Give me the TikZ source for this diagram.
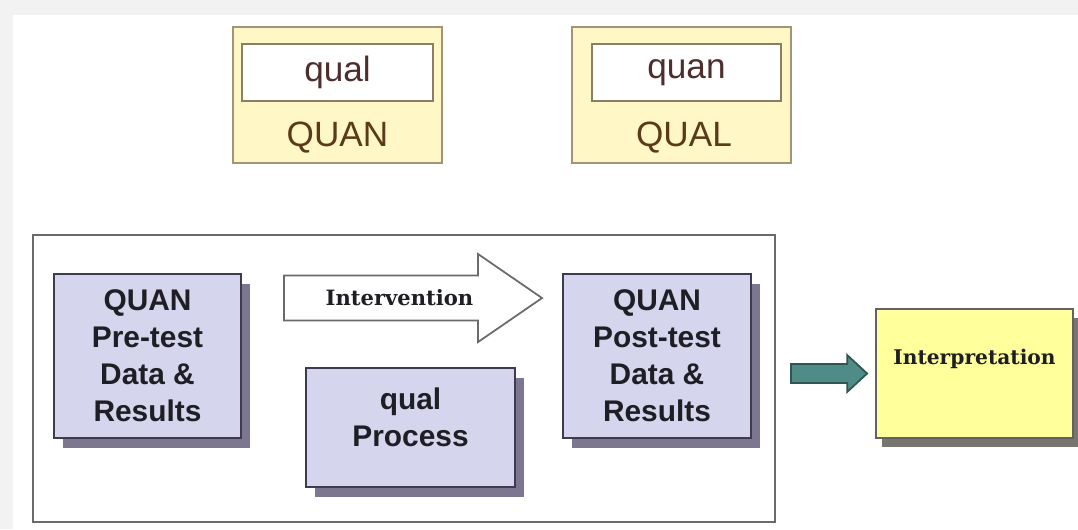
\documentclass[tikz,border=0pt]{standalone}
\usepackage{fontspec}
\setmainfont{Liberation Sans}
\newfontfamily\notefont{DejaVu Serif}
\usetikzlibrary{shadows,calc}
\definecolor{paper}{HTML}{F2F2F2}
\definecolor{ink}{HTML}{1E1E24}
\definecolor{cream}{HTML}{FFF7C6}
\definecolor{khaki}{HTML}{A39473}
\definecolor{umber}{HTML}{5A3A18}
\definecolor{plum}{HTML}{4E2E2C}
\definecolor{lilac}{HTML}{D5D5EE}
\definecolor{slate}{HTML}{3C3C4E}
\definecolor{lilacshade}{HTML}{7C7690}
\definecolor{lemon}{HTML}{FFFF9C}
\definecolor{greyshade}{HTML}{78746F}
\definecolor{teal}{HTML}{4F8C88}
\definecolor{tealdark}{HTML}{2E5652}
\definecolor{frame}{HTML}{6A6A6A}

\begin{document}
\begin{tikzpicture}[
    line width=0.9pt, color=ink,
    topbox/.style={draw=khaki, fill=cream, line width=1pt, inner sep=0pt, minimum height=2.72cm},
    tagbox/.style={draw=khaki!85!black, fill=white, line width=1pt, inner sep=0pt, minimum height=1.14cm,
      font=\fontsize{20}{24}\selectfont, text=plum},
    toplab/.style={font=\fontsize{20}{24}\selectfont, text=umber},
    phase/.style={draw=slate, fill=lilac, line width=1.1pt, inner sep=0pt, align=center,
      font=\fontsize{17}{21}\selectfont\bfseries, text=ink,
      drop shadow={shadow xshift=0.18cm, shadow yshift=-0.19cm, fill=lilacshade, opacity=1}},
    phaselab/.style={align=center, font=\fontsize{17}{21}\selectfont\bfseries, text=ink},
    notelab/.style={font=\fontsize{12}{14}\selectfont\notefont\bfseries, text=ink}]
  % 1078 x 529 px canvas, 1 px = 0.02 cm
  \path[use as bounding box] (0,0) rectangle (21.56,10.58);
  \fill[paper] (0,0) rectangle (21.56,10.58);
  \fill[white] (0.26,0) rectangle (21.56,10.28);

  % ================= embedded designs =================
  \node[topbox, minimum width=4.18cm] (embA) at (6.75,8.68) {};
  \node[tagbox, minimum width=3.82cm] (tagA) at (6.75,9.13) {qual};
  \node[toplab] (mainA) at (6.75,7.82) {QUAN};

  \node[topbox, minimum width=4.38cm] (embB) at (13.63,8.68) {};
  \node[tagbox, minimum width=3.78cm] (tagB) at (13.73,9.13) {quan};
  \node[toplab] (mainB) at (13.68,7.82) {QUAL};

  % ================= experimental frame =================
  \node[draw=frame, line width=1.1pt, inner sep=0pt, minimum width=14.84cm, minimum height=5.74cm]
    (frame) at (8.08,3.01) {};

  \node[phase, minimum width=3.74cm, minimum height=3.28cm] (pre) at (2.95,3.46)
    {QUAN\\Pre-test\\Data \&\\Results};
  \node[phase, minimum width=3.76cm, minimum height=3.28cm] (post) at (13.14,3.46)
    {QUAN\\Post-test\\Data \&\\Results};
  \node[phase, minimum width=4.18cm, minimum height=2.38cm] (proc) at (8.21,2.03) {};
  \node[phaselab] (proctxt) at ([yshift=0.21cm]proc.center) {qual\\Process};

  % intervention block arrow from pre-test towards post-test
  \coordinate (ivs) at ($(pre.north east)+(0.84,-0.50)$);
  \coordinate (ive) at ($(post.north west)+(-0.40,-0.50)$);
  \draw[frame, fill=white, line width=1pt, line join=miter]
    ($(ivs)+(0,0.45)$) -- ($(ive)+(-1.28,0.45)$) -- ($(ive)+(-1.28,0.88)$) -- (ive)
    -- ($(ive)+(-1.28,-0.88)$) -- ($(ive)+(-1.28,-0.45)$) -- ($(ivs)+(0,-0.45)$) -- cycle;
  \node[notelab] (iv) at ($(ivs)+(2.31,0)$) {Intervention};

  % ================= interpretation =================
  \node[draw=ink!70, fill=lemon, line width=1pt, inner sep=0pt, minimum width=3.94cm, minimum height=2.58cm,
    drop shadow={shadow xshift=0.12cm, shadow yshift=-0.18cm, fill=greyshade, opacity=1}]
    (interp) at (19.49,3.11) {};
  \node[notelab, font=\fontsize{11.5}{14}\selectfont\notefont\bfseries] (interptxt)
    at ([yshift=-1.02cm]interp.north) {Interpretation};

  % block arrow from the frame to interpretation
  \coordinate (gs) at ([xshift=0.30cm]frame.east |- interp.west);
  \coordinate (ge) at ([xshift=-0.16cm]interp.west);
  \draw[tealdark, fill=teal, line width=1pt, line join=miter]
    ($(gs)+(0,0.19)$) -- ($(ge)+(-0.40,0.19)$) -- ($(ge)+(-0.40,0.37)$) -- (ge)
    -- ($(ge)+(-0.40,-0.37)$) -- ($(ge)+(-0.40,-0.19)$) -- ($(gs)+(0,-0.19)$) -- cycle;
\end{tikzpicture}
\end{document}
